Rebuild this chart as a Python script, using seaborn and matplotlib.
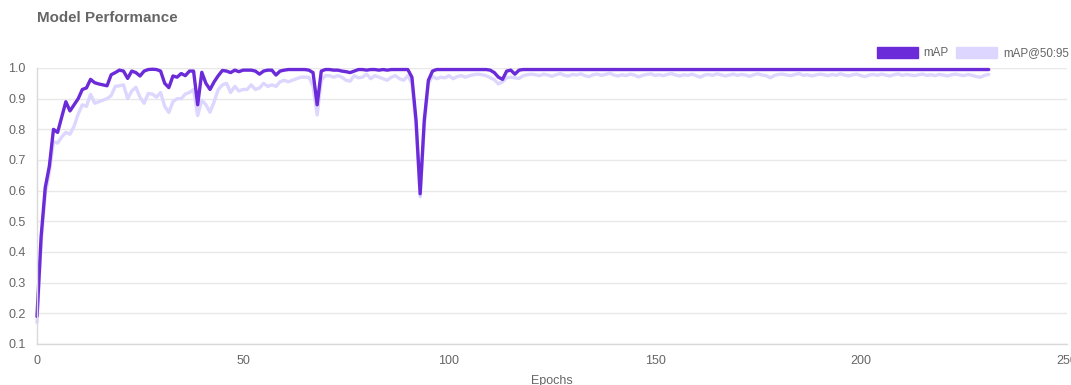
import numpy as np
import matplotlib.pyplot as plt
import pandas as pd
import matplotlib as mpl
import seaborn as sns
from matplotlib.patches import Patch

sns.set_style("white")
plt.rcParams['font.family'] = ['Liberation Sans', 'DejaVu Sans']

# mAP per epoch (0..231)
map50 = [
    0.19, 0.45, 0.61, 0.68, 0.80, 0.79, 0.84, 0.89, 0.86, 0.88,
    0.90, 0.93, 0.935, 0.963, 0.952, 0.948, 0.945, 0.942, 0.978, 0.985,
    0.993, 0.99, 0.966, 0.99, 0.985, 0.974, 0.99, 0.995, 0.996, 0.995,
    0.99, 0.95, 0.936, 0.974, 0.97, 0.982, 0.975, 0.99, 0.99, 0.88,
    0.986, 0.95, 0.93, 0.955, 0.975, 0.992, 0.99, 0.985, 0.993, 0.988,
    0.993, 0.993, 0.993, 0.99, 0.98, 0.99, 0.993, 0.993, 0.977, 0.99,
    0.993, 0.995, 0.995, 0.995, 0.995, 0.995, 0.993, 0.985, 0.88, 0.99,
    0.995, 0.995, 0.993, 0.993, 0.99, 0.988, 0.985, 0.99, 0.995, 0.995,
    0.993, 0.995, 0.995, 0.993, 0.995, 0.993, 0.995, 0.995, 0.995, 0.995,
    0.995, 0.97, 0.83, 0.59, 0.83, 0.96, 0.99, 0.995, 0.995, 0.995,
    0.995, 0.995, 0.995, 0.995, 0.995, 0.995, 0.995, 0.995, 0.995, 0.995,
    0.993, 0.985, 0.97, 0.963, 0.99, 0.993, 0.98, 0.993, 0.995, 0.995,
    0.995, 0.995, 0.995, 0.995, 0.995, 0.995, 0.995, 0.995, 0.995, 0.995,
    0.995, 0.995, 0.995, 0.995, 0.995, 0.995, 0.995, 0.995, 0.995, 0.995,
    0.995, 0.995, 0.995, 0.995, 0.995, 0.995, 0.995, 0.995, 0.995, 0.995,
    0.995, 0.995, 0.995, 0.995, 0.995, 0.995, 0.995, 0.995, 0.995, 0.995,
    0.995, 0.995, 0.995, 0.995, 0.995, 0.995, 0.995, 0.995, 0.995, 0.995,
    0.995, 0.995, 0.995, 0.995, 0.995, 0.995, 0.995, 0.995, 0.995, 0.995,
    0.995, 0.995, 0.995, 0.995, 0.995, 0.995, 0.995, 0.995, 0.995, 0.995,
    0.995, 0.995, 0.995, 0.995, 0.995, 0.995, 0.995, 0.995, 0.995, 0.995,
    0.995, 0.995, 0.995, 0.995, 0.995, 0.995, 0.995, 0.995, 0.995, 0.995,
    0.995, 0.995, 0.995, 0.995, 0.995, 0.995, 0.995, 0.995, 0.995, 0.995,
    0.995, 0.995, 0.995, 0.995, 0.995, 0.995, 0.995, 0.995, 0.995, 0.995,
    0.995, 0.995,
]

# mAP@50:95 per epoch (0..231)
map5095 = [
    0.17, 0.43, 0.59, 0.66, 0.76, 0.755, 0.775, 0.79, 0.784, 0.81,
    0.85, 0.88, 0.875, 0.914, 0.885, 0.89, 0.895, 0.90, 0.91, 0.94,
    0.942, 0.945, 0.90, 0.925, 0.937, 0.905, 0.885, 0.917, 0.915, 0.905,
    0.92, 0.875, 0.855, 0.89, 0.90, 0.90, 0.915, 0.92, 0.93, 0.845,
    0.895, 0.88, 0.856, 0.89, 0.93, 0.945, 0.95, 0.92, 0.94, 0.925,
    0.93, 0.93, 0.945, 0.93, 0.935, 0.95, 0.94, 0.945, 0.94, 0.955,
    0.96, 0.955, 0.96, 0.965, 0.97, 0.97, 0.97, 0.94, 0.847, 0.96,
    0.975, 0.975, 0.97, 0.975, 0.97, 0.96, 0.957, 0.975, 0.968, 0.97,
    0.98, 0.965, 0.975, 0.97, 0.965, 0.96, 0.97, 0.975, 0.965, 0.96,
    0.975, 0.95, 0.81, 0.58, 0.81, 0.95, 0.973, 0.965, 0.97, 0.968,
    0.975, 0.965, 0.972, 0.975, 0.97, 0.975, 0.978, 0.98, 0.978, 0.975,
    0.968, 0.962, 0.948, 0.955, 0.968, 0.97, 0.968, 0.966, 0.975, 0.978,
    0.98, 0.978, 0.975, 0.98, 0.977, 0.973, 0.978, 0.982, 0.976, 0.974,
    0.979, 0.977, 0.981, 0.975, 0.972, 0.978, 0.98, 0.976, 0.979, 0.983,
    0.977, 0.974, 0.978, 0.975, 0.98, 0.977, 0.971, 0.976, 0.979, 0.981,
    0.976, 0.978, 0.975, 0.979, 0.982, 0.977, 0.974, 0.978, 0.976, 0.98,
    0.975, 0.97, 0.977, 0.979, 0.976, 0.981, 0.978, 0.974, 0.977, 0.98,
    0.976, 0.979, 0.977, 0.973, 0.978, 0.981, 0.977, 0.975, 0.968, 0.976,
    0.979, 0.98, 0.977, 0.975, 0.979, 0.982, 0.976, 0.978, 0.974, 0.977,
    0.98, 0.978, 0.975, 0.979, 0.976, 0.981, 0.977, 0.974, 0.978, 0.98,
    0.975, 0.972, 0.977, 0.979, 0.976, 0.98, 0.977, 0.974, 0.978, 0.981,
    0.976, 0.979, 0.977, 0.975, 0.978, 0.98, 0.976, 0.978, 0.975, 0.979,
    0.977, 0.974, 0.978, 0.98, 0.977, 0.975, 0.979, 0.976, 0.972, 0.97,
    0.976, 0.979,
]

epochs = list(range(len(map50)))
df = pd.DataFrame({"epoch": epochs, "mAP": map50, "mAP@50:95": map5095})

dark = "#6B2BD9"
light = "#DDD6FE"
grey = "#666666"

fig = plt.figure(figsize=(10.71, 3.85), dpi=100)
ax = fig.add_axes([37 / 1071, 1 - 344 / 385, 1030 / 1071, 276 / 385])

# light series first so mAP sits on top
sns.lineplot(data=df, x="epoch", y="mAP@50:95", ax=ax, color=light, linewidth=2.4, clip_on=False)
sns.lineplot(data=df, x="epoch", y="mAP", ax=ax, color=dark, linewidth=2.4, clip_on=False)

ax.set_xlim(0, 250)
ax.set_ylim(0.1, 1.0)
ax.set_xticks(range(0, 251, 50))
ax.set_yticks(np.arange(0.1, 1.01, 0.1))
ax.set_yticklabels([f"{v:.1f}" for v in np.arange(0.1, 1.01, 0.1)])
ax.yaxis.grid(True, color="#e8e8e8", linewidth=1)
ax.xaxis.grid(False)
sns.despine(ax=ax)
for s in ["left", "bottom"]:
    ax.spines[s].set_color("#d9d9d9")
    ax.spines[s].set_linewidth(1)
ax.tick_params(axis="y", length=6, color="#e8e8e8", colors=grey, labelsize=9, pad=2)
ax.tick_params(axis="x", length=0, colors=grey, labelsize=9, pad=8)
ax.tick_params(axis="y", labelcolor=grey)
ax.set_xlabel("Epochs", color=grey, fontsize=9, labelpad=6)
ax.set_ylabel("")

fig.text(37 / 1071, 1 - 18 / 385, "Model Performance", fontsize=10.9, fontweight="bold",
         color=grey, va="center", ha="left")

handles = [Patch(facecolor=dark, edgecolor=dark, label="mAP"),
           Patch(facecolor=light, edgecolor=light, label="mAP@50:95")]
leg = fig.legend(handles=handles, loc="center right", bbox_to_anchor=(1069 / 1071, 1 - 53 / 385),
                 ncol=2, frameon=False, fontsize=8.4, handlelength=3.55, handleheight=1.15,
                 handletextpad=0.5, columnspacing=0.6, borderpad=0, borderaxespad=0)
for t in leg.get_texts():
    t.set_color(grey)

plt.savefig("out.png", dpi=100)
